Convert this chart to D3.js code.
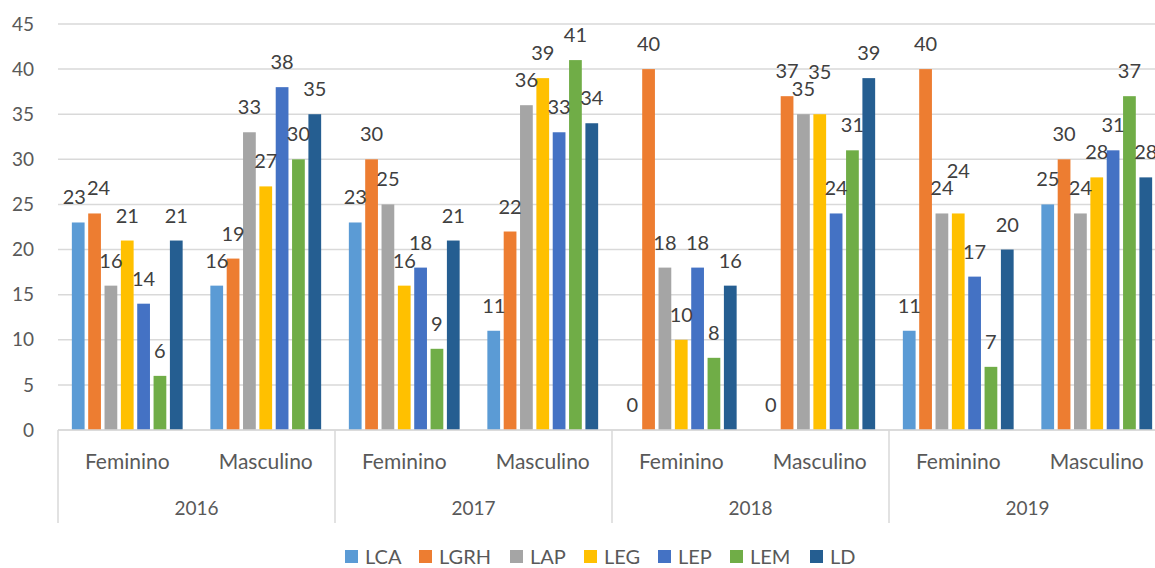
<!DOCTYPE html>
<html>
<head>
<meta charset="utf-8">
<script src="https://cdn.jsdelivr.net/npm/d3@7"></script>
<style>
  body { margin: 0; background: #fff; }
  svg text { font-family: Lato, "Open Sans", sans-serif; }
</style>
</head>
<body>
<div id="chart"></div>
<script>
// chart data
const years = ["2016", "2017", "2018", "2019"];
const genders = ["Feminino", "Masculino"];
const series = ["LCA", "LGRH", "LAP", "LEG", "LEP", "LEM", "LD"];
const colors = ["#5B9BD5", "#ED7D31", "#A5A5A5", "#FFC000", "#4472C4", "#70AD47", "#255E91"];
// one row per year/gender, one value per series
const values = [
    [23, 24, 16, 21, 14, 6, 21],
    [16, 19, 33, 27, 38, 30, 35],
    [23, 30, 25, 16, 18, 9, 21],
    [11, 22, 36, 39, 33, 41, 34],
    [0, 40, 18, 10, 18, 8, 16],
    [0, 37, 35, 35, 24, 31, 39],
    [11, 40, 24, 24, 17, 7, 20],
    [25, 30, 24, 28, 31, 37, 28]
];
const yTicks = [0, 5, 10, 15, 20, 25, 30, 35, 40, 45];

const width = 1155, height = 568;
const plotLeft = 58, plotRight = 1166, plotTop = 24, plotBottom = 430;

let svg = d3.select("#chart")
    .append("svg")
    .attr("width", width)
    .attr("height", height);

// build the category list (year + gender)
let cats = [];
years.forEach(function (yr) {
    genders.forEach(function (g) {
        cats.push(yr + "|" + g);
    });
});

let y = d3.scaleLinear().domain([0, 45]).range([plotBottom, plotTop]);
let x0 = d3.scaleBand().domain(cats).range([plotLeft, plotRight]).paddingInner(0.2).paddingOuter(0.1);
let x1 = d3.scaleBand().domain(series).range([0, x0.bandwidth()]).paddingInner(0.22);
let xYear = d3.scaleBand().domain(years).range([plotLeft, plotRight]);

// gridlines
svg.append("g")
    .selectAll("line")
    .data(yTicks)
    .enter()
    .append("line")
    .attr("x1", plotLeft)
    .attr("x2", plotRight)
    .attr("y1", d => y(d))
    .attr("y2", d => y(d))
    .style("stroke", "#d9d9d9")
    .style("stroke-width", 1.5);

// y labels
svg.append("g")
    .selectAll("text")
    .data(yTicks)
    .enter()
    .append("text")
    .attr("x", 34)
    .attr("y", d => y(d))
    .attr("dy", "0.35em")
    .attr("text-anchor", "end")
    .style("font-size", "19px")
    .style("fill", "#595959")
    .text(d => d);

// bars
let groups = svg.append("g")
    .selectAll("g")
    .data(values)
    .enter()
    .append("g")
    .attr("transform", (d, i) => `translate(${x0(cats[i])},0)`);

groups.selectAll("rect")
    .data(d => d.map((v, j) => ({key: series[j], value: v, color: colors[j]})))
    .enter()
    .append("rect")
    .attr("x", d => x1(d.key))
    .attr("width", x1.bandwidth())
    .attr("y", d => y(d.value))
    .attr("height", d => y(0) - y(d.value))
    .style("fill", d => d.color);

// data labels
groups.each(function (row) {
    let g = d3.select(this);
    let labels = row.map((v, j) => ({
        value: v,
        x: x1(series[j]) + x1.bandwidth() / 2,
        y: y(v) - 18
    }));
    let texts = g.selectAll("text.lbl")
        .data(labels)
        .enter()
        .append("text")
        .attr("class", "lbl")
        .attr("text-anchor", "middle")
        .style("font-size", "20px")
        .style("fill", "#404040")
        .text(d => d.value);
    texts.each(function (d) { d.w = this.getComputedTextLength(); });

    // equal neighbours: lift the second label above the first
    for (let j = 1; j < labels.length; j++) {
        let a = labels[j - 1], b = labels[j];
        if (Math.abs(a.y - b.y) < 4 && (a.w + b.w) / 2 > b.x - a.x) {
            b.y = a.y - 17;
        }
    }
    // other collisions: push neighbouring labels apart sideways
    for (let it = 0; it < 6; it++) {
        for (let j = 1; j < labels.length; j++) {
            let a = labels[j - 1], b = labels[j];
            if (Math.abs(a.y - b.y) > 15) continue;
            let ov = (a.w + b.w) / 2 + 1 - (b.x - a.x);
            if (ov > 0) {
                a.x -= ov / 2;
                b.x += ov / 2;
            }
        }
    }
    texts.attr("x", d => d.x).attr("y", d => d.y);
});

// category axis
svg.append("line")
    .attr("x1", plotLeft)
    .attr("x2", plotRight)
    .attr("y1", plotBottom)
    .attr("y2", plotBottom)
    .style("stroke", "#d9d9d9")
    .style("stroke-width", 1.5);

svg.append("g")
    .selectAll("line")
    .data(years.concat(["end"]))
    .enter()
    .append("line")
    .attr("x1", (d, i) => plotLeft + i * xYear.bandwidth())
    .attr("x2", (d, i) => plotLeft + i * xYear.bandwidth())
    .attr("y1", plotBottom)
    .attr("y2", 523)
    .style("stroke", "#d9d9d9")
    .style("stroke-width", 1.5);

// gender labels
svg.append("g")
    .selectAll("text")
    .data(cats)
    .enter()
    .append("text")
    .attr("x", d => x0(d) + x0.bandwidth() / 2)
    .attr("y", 462)
    .attr("dy", "0.35em")
    .attr("text-anchor", "middle")
    .style("font-size", "21px")
    .style("fill", "#595959")
    .text(d => d.split("|")[1]);

// year labels
svg.append("g")
    .selectAll("text")
    .data(years)
    .enter()
    .append("text")
    .attr("x", d => xYear(d) + xYear.bandwidth() / 2)
    .attr("y", 508)
    .attr("dy", "0.35em")
    .attr("text-anchor", "middle")
    .style("font-size", "19px")
    .style("fill", "#595959")
    .text(d => d);

// legend
const legendX = [345, 419, 510, 584, 658, 730, 810];
let legend = svg.append("g")
    .selectAll("g")
    .data(series)
    .enter()
    .append("g")
    .attr("transform", (d, i) => `translate(${legendX[i]},557)`);

legend.append("rect")
    .attr("x", 0)
    .attr("y", -7)
    .attr("width", 13)
    .attr("height", 13)
    .style("fill", (d, i) => colors[i]);

legend.append("text")
    .attr("x", 20)
    .attr("y", 0)
    .attr("dy", "0.35em")
    .style("font-size", "20px")
    .style("fill", "#595959")
    .text(d => d);
</script>
</body>
</html>
